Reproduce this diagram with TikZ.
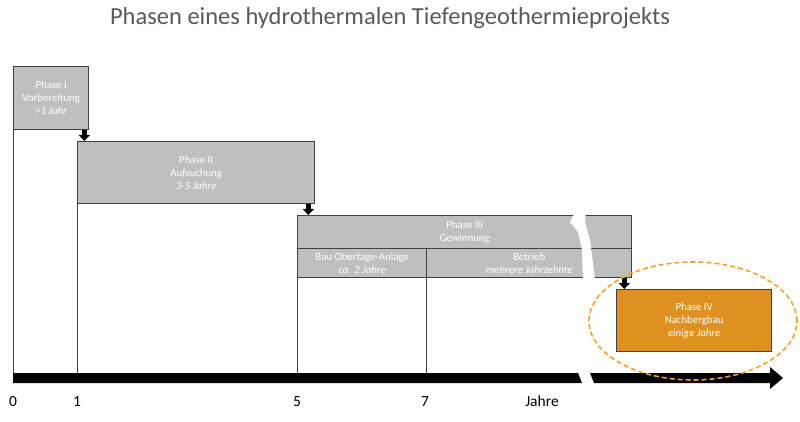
\documentclass[tikz,border=0pt]{standalone}
\usepackage{fontspec}
\setmainfont{Carlito}
\usetikzlibrary{arrows.meta}
\definecolor{boxgray}{HTML}{BFBFBF}
\definecolor{edgegray}{HTML}{404040}
\definecolor{orangefill}{HTML}{DE9120}
\definecolor{orangedash}{HTML}{F5A028}
\definecolor{titlegray}{HTML}{595959}
\begin{document}
\begin{tikzpicture}[x=1pt,y=-1pt,
  phasebox/.style={draw=edgegray, line width=1.3pt, fill=boxgray, text=white, align=center,
    font=\fontsize{10.8}{13}\selectfont, inner sep=0pt, anchor=north west},
  vline/.style={draw=edgegray, line width=0.9pt},
  blockarrow/.style={black, line width=4.5pt, -{Triangle[width=11pt,length=6pt]}},
  axislabel/.style={font=\fontsize{15.5}{18}\selectfont, text=black, inner sep=0pt, anchor=base}]
\useasboundingbox (0,0) rectangle (800,422);
% title
\node[font=\fontsize{24.5}{28}\selectfont, text=titlegray, anchor=base, inner sep=0pt] (title) at (390,25) {Phasen eines hydrothermalen Tiefengeothermieprojekts};
% axis coordinate
\coordinate (axis) at (13,373);
% boxes
\node[phasebox, minimum width=75pt, minimum height=63pt] (p1) at (13,66) {Phase I\\Vorbereitung\\\textit{>1 Jahr}};
\node[phasebox, minimum width=237pt, minimum height=62pt] (p2) at (77,141) {Phase II\\Aufsuchung\\\textit{3-5 Jahre}};
\node[phasebox, minimum width=334pt, minimum height=33pt] (p3) at (297,215) {Phase III\\Gewinnung};
\node[phasebox, minimum width=129pt, minimum height=29pt] (p3a) at (297,248) {Bau Obertage-Anlage\\\textit{ca. 2 Jahre}};
\node[phasebox, minimum width=205pt, minimum height=29pt] (p3b) at (426,248) {Betrieb\\\textit{mehrere Jahrzehnte}};
\node[phasebox, fill=orangefill, minimum width=155pt, minimum height=62pt] (p4) at (616,289) {Phase IV\\Nachbergbau\\\textit{einige Jahre}};
% break in phase III
\fill[white] (575,212) -- (570,222) -- (578,232) -- (582,250) -- (583,280) -- (595,280) -- (592,255) -- (590,240) -- (585,222) -- (586,212) -- cycle;
% vertical lines
\draw[vline] (p1.south west) -- (p1.south west |- axis);
\draw[vline] (p2.south west) -- (p2.south west |- axis);
\draw[vline] (p3a.south west) -- (p3a.south west |- axis);
\draw[vline] (p3b.south west) -- (p3b.south west |- axis);
% block arrows
\coordinate (a1) at ([xshift=-5pt]p1.south east);
\coordinate (a2) at ([xshift=-7pt]p2.south east);
\coordinate (a3) at ([xshift=-8pt]p3b.south east);
\draw[blockarrow] (a1) -- (a1 |- p2.north);
\draw[blockarrow] (a2) -- (a2 |- p3.north);
\draw[blockarrow] (a3) -- (a3 |- p4.north);
% timeline
\fill[black] (13,373) -- (578,373) -- (582,383) -- (13,383) -- cycle;
\fill[black] (590,373) -- (770,373) -- (770,367) -- (783,378) -- (770,389) -- (770,383) -- (594,383) -- cycle;
% labels
\node[axislabel] (l0) at (13,406) {0};
\node[axislabel] (l1) at (77,406) {1};
\node[axislabel] (l5) at (297,406) {5};
\node[axislabel] (l7) at (425,406) {7};
\node[axislabel] (lj) at (542,406) {Jahre};
% dashed ellipse
\draw[orangedash, line width=1.6pt, dash pattern=on 5pt off 3pt] (693,321) ellipse [x radius=104pt, y radius=59pt];
\end{tikzpicture}
\end{document}
